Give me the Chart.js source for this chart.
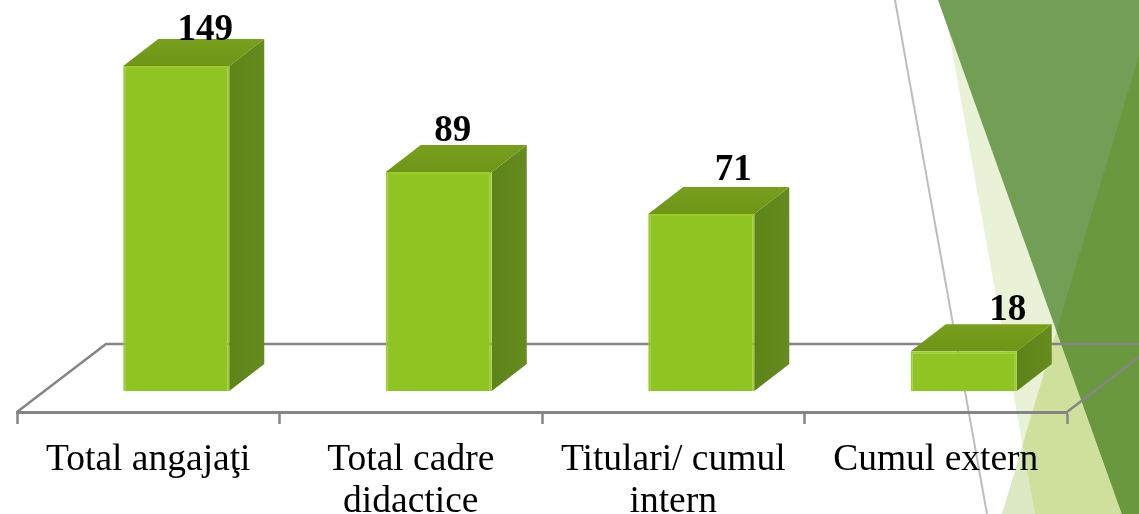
<!DOCTYPE html>
<html>
<head>
<meta charset="utf-8">
<title>Personal</title>
<script src="https://cdn.jsdelivr.net/npm/chart.js@4"></script>
<style>
  html, body { margin: 0; padding: 0; background: #fff; overflow: hidden; }
  #wrap { position: relative; width: 1139px; height: 514px; }
  #wrap svg, #wrap canvas { position: absolute; left: 0; top: 0; }
</style>
</head>
<body>
<div id="wrap">
  <!-- slide decoration behind the chart -->
  <svg width="1139" height="514" viewBox="0 0 1139 514">
    <line x1="895" y1="0" x2="987" y2="514" stroke="#bdbdbd" stroke-width="2"/>
    <polygon points="943,0 1035,514 1139,514 1139,0" fill="#e9f1d6"/>
    <polygon points="1002,514 1139,55 1139,514" fill="#dde9c2"/>
    <polygon points="1022.6,445 1139,55 1139,514 1035,514" fill="#cfe09d"/>
    <polygon points="938,0 1139,0 1139,514 1122,514" fill="#739e55"/>
    <polygon points="1056.6,331 1139,55 1139,514 1122,514" fill="#6a983f"/>
  </svg>
  <canvas id="c" width="1139" height="514"></canvas>
</div>
<script>
(function () {
  "use strict";
  var categories = [["Total angajaţi"], ["Total cadre", "didactice"], ["Titulari/ cumul", "intern"], ["Cumul extern"]];
  // numbers printed above the bars
  var printedValues = [149, 89, 71, 18];
  // bar heights as drawn in the picture, they are not proportional to the printed numbers
  var barHeights = [149, 100.4, 81.2, 18.3];

  var COL = { front: "#8fc422", edge: "#9ccb2e", top: "#789f1c", topDark: "#6f9518", side: "#668b1e", sideDark: "#5c8418", floor: "#858585" };
  var BAR_SHIFT = 28;                  // bars stand further back than the category centres
  var DEPTH = { x: 35, y: -27 };       // box depth
  var FLOOR = { x: 89, y: -68 };       // floor depth
  var LABEL_POS = [[29, 1], [14, -4], [32, -7], [44, -4]]; // label offset from top back edge

  function poly(ctx, pts, fill) {
    ctx.beginPath();
    ctx.moveTo(pts[0][0], pts[0][1]);
    for (var i = 1; i < pts.length; i++) ctx.lineTo(pts[i][0], pts[i][1]);
    ctx.closePath();
    ctx.fillStyle = fill;
    ctx.fill();
  }

  var box3d = {
    id: "box3d",
    afterDatasetsUpdate: function (chart) {
      chart.getDatasetMeta(0).data.forEach(function (el) { el.x += BAR_SHIFT; });
    },
    beforeDatasetsDraw: function (chart) {
      var ctx = chart.ctx, a = chart.chartArea;
      // floor outline, the front edge is the x axis border itself
      ctx.save();
      ctx.strokeStyle = COL.floor; ctx.lineWidth = 2.5;
      ctx.beginPath();
      ctx.moveTo(a.left, a.bottom);
      ctx.lineTo(a.left + FLOOR.x, a.bottom + FLOOR.y);
      ctx.lineTo(a.right + FLOOR.x, a.bottom + FLOOR.y);
      ctx.moveTo(a.right, a.bottom);
      ctx.lineTo(a.right + FLOOR.x, a.bottom + FLOOR.y);
      ctx.stroke();
      // side and top of each box
      chart.getDatasetMeta(0).data.forEach(function (el) {
        var l = el.x - el.width / 2, r = el.x + el.width / 2;
        var side = ctx.createLinearGradient(r, 0, r + DEPTH.x, 0);
        side.addColorStop(0, COL.sideDark); side.addColorStop(1, COL.side);
        var top = ctx.createLinearGradient(0, el.y + DEPTH.y, 0, el.y);
        top.addColorStop(0, COL.top); top.addColorStop(1, COL.topDark);
        poly(ctx, [[r, el.y], [r + DEPTH.x, el.y + DEPTH.y], [r + DEPTH.x, el.base + DEPTH.y], [r, el.base]], side);
        poly(ctx, [[l, el.y], [l + DEPTH.x, el.y + DEPTH.y], [r + DEPTH.x, el.y + DEPTH.y], [r, el.y]], top);
      });
      ctx.restore();
    },
    afterDatasetsDraw: function (chart) {
      var ctx = chart.ctx;
      ctx.save();
      ctx.font = "bold 37px 'Liberation Serif'";
      ctx.fillStyle = "#000";
      ctx.textAlign = "center";
      ctx.textBaseline = "alphabetic";
      chart.getDatasetMeta(0).data.forEach(function (el, i) {
        ctx.fillText(printedValues[i], el.x + LABEL_POS[i][0], el.y + DEPTH.y + LABEL_POS[i][1]);
      });
      ctx.restore();
    }
  };

  new Chart(document.getElementById("c"), {
    type: "bar",
    data: {
      labels: categories,
      datasets: [{
        data: barHeights,
        backgroundColor: COL.front,
        borderColor: COL.edge,
        borderWidth: 2,
        barPercentage: 0.404,
        categoryPercentage: 1
      }]
    },
    options: {
      responsive: false,
      animation: false,
      layout: { padding: { left: 17, right: 72, top: 0, bottom: 0 } },
      plugins: { legend: { display: false }, tooltip: { enabled: false } },
      scales: {
        x: {
          border: { color: COL.floor, width: 3 },
          grid: { drawOnChartArea: false, drawTicks: true, tickLength: 12, tickColor: COL.floor, tickWidth: 2.5 },
          ticks: { color: "#000", font: { family: "'Liberation Serif'", size: 37.5, lineHeight: 1.12 }, padding: 15, maxRotation: 0, autoSkip: false },
          afterFit: function (s) { s.height = 102; }
        },
        y: { display: false, min: -9.6, max: 179.3 }
      }
    },
    plugins: [box3d]
  });
})();
</script>
</body>
</html>
